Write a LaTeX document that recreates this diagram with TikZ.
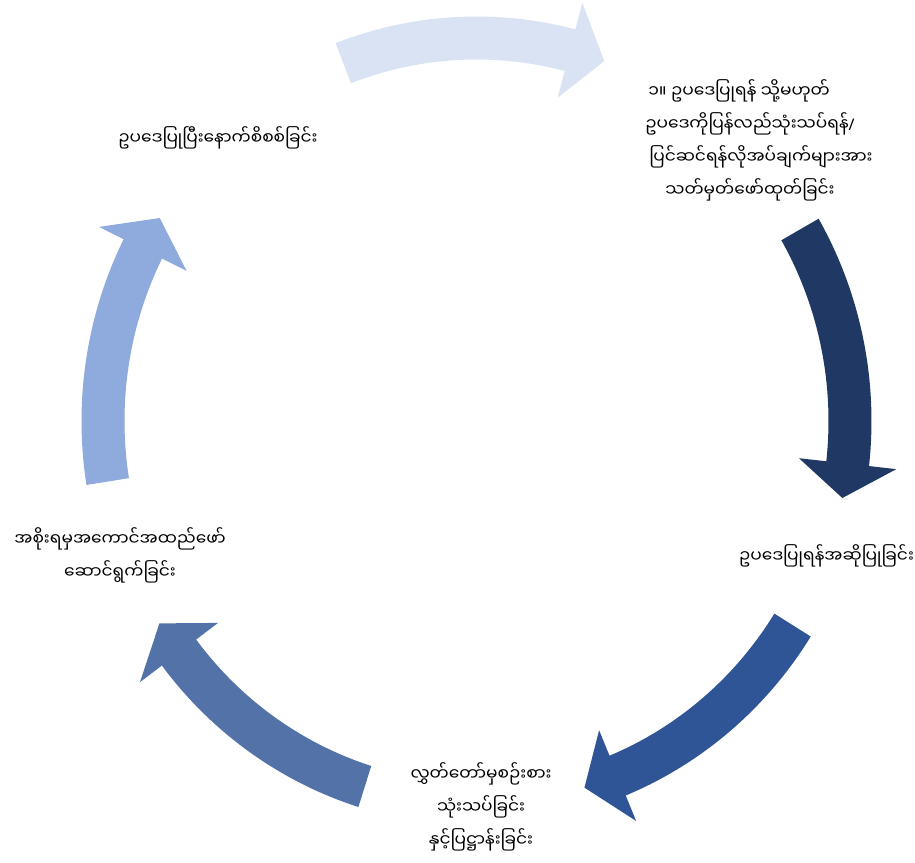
\documentclass[tikz,border=0pt]{standalone}
\usepackage{fontspec}
\newfontfamily\mmfont[Script=Myanmar]{Noto Sans Myanmar UI}
\newfontfamily\latinfont{Noto Sans}
\definecolor{stepA}{HTML}{DAE3F3}
\definecolor{stepB}{HTML}{203864}
\definecolor{stepC}{HTML}{2F5597}
\definecolor{stepD}{HTML}{5272A8}
\definecolor{stepE}{HTML}{8FAADC}
% one curved block arrow on the cycle ellipse:
% #1 tail angle, #2 angle where the head starts, #3 tip angle, #4 colour
\newcommand\cycarrow[4]{%
  \fill[#4] (#1:395pt and 404.5pt)
    arc[start angle=#1, end angle=#2, x radius=395pt, y radius=404.5pt]
    -- (#2:422.5pt and 432pt)
    -- (#3:373.5pt and 383pt)
    -- (#2:324.5pt and 334pt)
    -- (#2:352pt and 361.5pt)
    arc[start angle=#2, end angle=#1, x radius=352pt, y radius=361.5pt]
    -- cycle;}
\tikzset{
  label text/.style={align=center, inner sep=0pt, text=black,
    font=\mmfont\fontsize{17}{33}\selectfont}
}
\begin{document}
\begin{tikzpicture}[x=1pt, y=1pt]
\useasboundingbox (0,0) rectangle (915,862);
\begin{scope}[shift={(476.5,441)}]
  \cycarrow{110.9}{75.5}{70.0}{stepA}
  \cycarrow{30.0}{-6.4}{-11.6}{stepB}
  \cycarrow{-32.2}{-67.8}{-73.2}{stepC}
  \cycarrow{-107.4}{-142.8}{-148.1}{stepD}
  \cycarrow{189.1}{153.3}{148.0}{stepE}
\end{scope}
\node[label text] (s1) at (750,722) {၁။ ဥပဒေပြုရန် သို့မဟုတ်\hspace*{22pt}\\ဥပဒေကိုပြန်လည်သုံးသပ်ရန်{\latinfont\fontsize{16}{33}\selectfont/}\\\hspace*{22pt}ပြင်ဆင်ရန်လိုအပ်ချက်များအား\\သတ်မှတ်ဖော်ထုတ်ခြင်း};
\node[label text] (s2) at (826.5,306) {ဥပဒေပြုရန်အဆိုပြုခြင်း};
\node[label text] (s3) at (481,55) {လွှတ်တော်မှစဉ်းစား\\သုံးသပ်ခြင်း\\နှင့်ပြဋ္ဌာန်းခြင်း};
\node[label text] (s4) at (120,307) {အစိုးရမှအကောင်အထည်ဖော်\\ဆောင်ရွက်ခြင်း};
\node[label text] (s5) at (218,724) {ဥပဒေပြုပြီးနောက်စိစစ်ခြင်း};
\end{tikzpicture}
\end{document}
